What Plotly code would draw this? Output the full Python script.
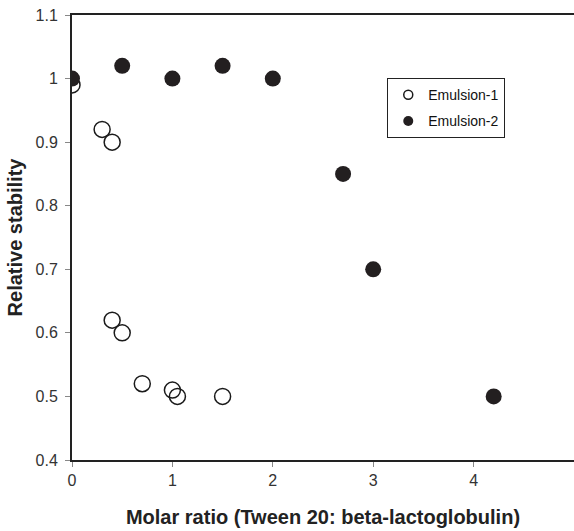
import plotly.graph_objects as go

e1_x = [0, 0.3, 0.4, 0.4, 0.5, 0.7, 1.0, 1.05, 1.5]
e1_y = [0.99, 0.92, 0.90, 0.62, 0.60, 0.52, 0.51, 0.50, 0.50]
e2_x = [0, 0.5, 1.0, 1.5, 2.0, 2.7, 3.0, 4.2]
e2_y = [1.0, 1.02, 1.0, 1.02, 1.0, 0.85, 0.70, 0.50]

FONT = "Arial, Liberation Sans, sans-serif"
C1 = "#1a1a1a"
C2 = "#231f20"

fig = go.Figure()
fig.add_trace(go.Scatter(x=e1_x, y=e1_y, mode="markers", name="Emulsion-1", showlegend=False,
                         marker=dict(symbol="circle-open", size=16, color=C1,
                                     line=dict(width=1.5, color=C1))))
fig.add_trace(go.Scatter(x=e2_x, y=e2_y, mode="markers", name="Emulsion-2", showlegend=False,
                         marker=dict(symbol="circle", size=16, color=C2)))
# legend entries with smaller symbols
fig.add_trace(go.Scatter(x=[None], y=[None], mode="markers", name="Emulsion-1",
                         legendgroup="a",
                         marker=dict(symbol="circle-open", size=9, color=C1,
                                     line=dict(width=1.5, color=C1))))
fig.add_trace(go.Scatter(x=[None], y=[None], mode="markers", name="Emulsion-2",
                         legendgroup="b",
                         marker=dict(symbol="circle", size=10, color=C2)))

fig.update_layout(
    width=574, height=531,
    margin=dict(l=72, r=0, t=15, b=71),
    paper_bgcolor="white", plot_bgcolor="white",
    font=dict(family=FONT, color="#333"),
    showlegend=True,
    legend=dict(x=0.628, y=0.858, xanchor="left", yanchor="top",
                bordercolor="#222", borderwidth=1, bgcolor="white",
                font=dict(family=FONT, size=14, color="#111"),
                itemsizing="trace", tracegroupgap=5, itemwidth=30),
    xaxis=dict(range=[0, 5], tickvals=[0, 1, 2, 3, 4, 5], showgrid=False, zeroline=False,
               automargin=False,
               showline=True, linecolor="#222", linewidth=2, mirror=True,
               ticks="outside", ticklen=5, tickcolor="#888", tickwidth=1,
               tickfont=dict(family=FONT, size=16, color="#333"),
               title=dict(text="<b>Molar ratio (Tween 20: beta-lactoglobulin)</b>",
                          font=dict(family=FONT, size=20, color="#222"), standoff=22)),
    yaxis=dict(range=[0.4, 1.1], tickvals=[0.4, 0.5, 0.6, 0.7, 0.8, 0.9, 1.0, 1.1],
               ticktext=["0.4", "0.5", "0.6", "0.7", "0.8", "0.9", "1", "1.1"],
               showgrid=False, zeroline=False, automargin=False,
               showline=True, linecolor="#222", linewidth=2,
               ticks="outside", ticklen=5, tickcolor="#888", tickwidth=1,
               ticklabelstandoff=4,
               tickfont=dict(family=FONT, size=16, color="#333"),
               title=dict(text="<b>Relative stability</b>",
                          font=dict(family=FONT, size=20, color="#222"), standoff=8)),
)

fig.write_html("out.html", config={"displayModeBar": False},
               post_script="document.body.style.margin='0';document.body.style.overflow='hidden';")
